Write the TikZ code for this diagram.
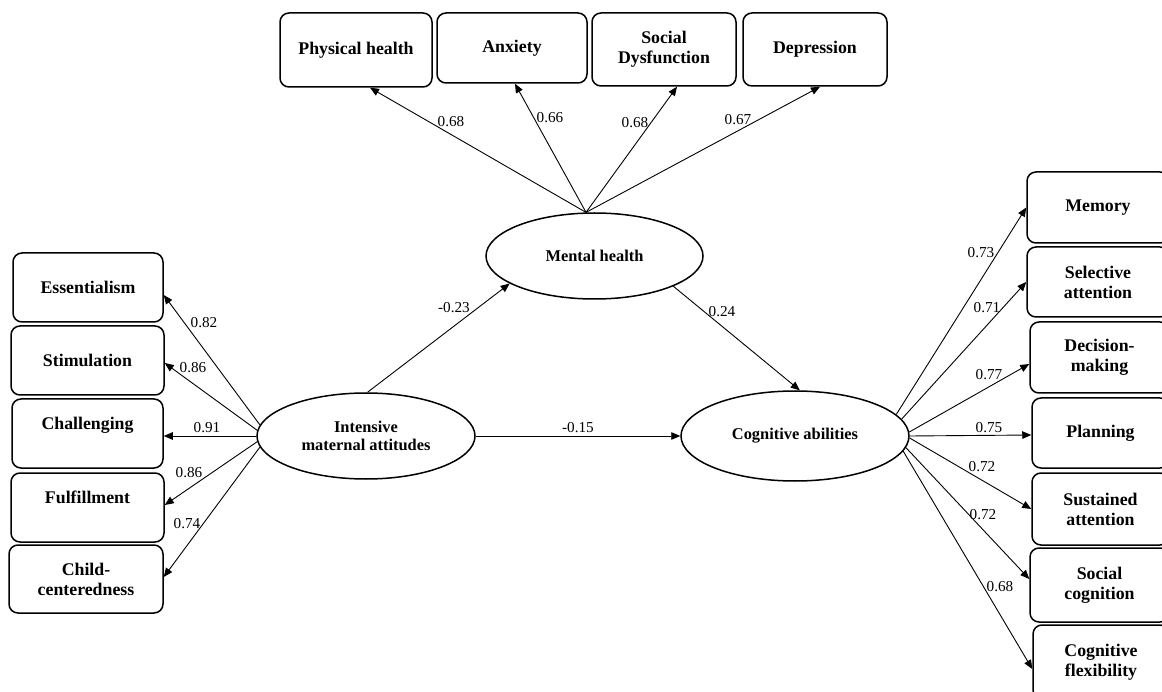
\documentclass[tikz,border=0pt]{standalone}
\usepackage{fontspec}
\setmainfont{Liberation Serif}
\usetikzlibrary{arrows.meta,shapes.geometric,calc}
\newcommand{\bxfont}{\fontsize{17.8}{20}\selectfont\bfseries}
\newcommand{\lvfont}{\fontsize{16.4}{18}\selectfont\bfseries}
\newcommand{\nmfont}{\fontsize{15.2}{17}\selectfont}
\begin{document}
\begin{tikzpicture}[x=1pt,y=-1pt,
  box/.style={draw,line width=1.5pt,rounded corners=9pt,align=center,inner sep=0pt,font=\bxfont},
  lat/.style={draw,ellipse,line width=1.5pt,align=center,inner sep=0pt,font=\lvfont},
  arr/.style={line width=0.9pt,-{Triangle[length=9pt,width=7.5pt]}},
  num/.style={inner sep=0pt,font=\nmfont}]
\fill[white] (0,0) rectangle (1162,692);
\clip (0,0) rectangle (1162,692);
% top indicators
\node[box,minimum width=152pt,minimum height=74pt] (ph) at (356,50) {Physical health};
\node[box,minimum width=150pt,minimum height=70pt] (anx) at (512,48) {Anxiety};
\node[box,minimum width=144pt,minimum height=73pt] (sd) at (664,49.5) {Social\\Dysfunction};
\node[box,minimum width=144pt,minimum height=73pt] (dep) at (815,49.5) {Depression};
% left indicators
\node[box,minimum width=150pt,minimum height=69pt] (ess) at (88,287.5) {Essentialism};
\node[box,minimum width=153pt,minimum height=69pt] (stim) at (87.5,360.5) {Stimulation};
\node[box,minimum width=151pt,minimum height=69pt] (chal) at (87.5,433.5) {Challenging\\\mbox{}};
\node[box,minimum width=153pt,minimum height=69pt] (ful) at (87.5,507.5) {Fulfillment\\\mbox{}};
\node[box,minimum width=154pt,minimum height=68pt] (child) at (86,579) {Child-\\centeredness};
% right indicators
\node[box,minimum width=142pt,minimum height=71pt] (mem) at (1098,207.5) {Memory};
\node[box,minimum width=142pt,minimum height=70pt] (sel) at (1098,282) {Selective\\attention};
\node[box,minimum width=139pt,minimum height=71pt] (dec) at (1099.5,357.5) {Decision-\\making};
\node[box,minimum width=137pt,minimum height=70pt] (plan) at (1100.5,433) {Planning};
\node[box,minimum width=137pt,minimum height=72pt] (sus) at (1100.5,509) {Sustained\\attention};
\node[box,minimum width=139pt,minimum height=74pt] (soc) at (1099.5,585) {Social\\cognition};
\node[box,minimum width=136pt,minimum height=74pt] (cf) at (1101,662) {Cognitive\\flexibility};
% latent variables
\node[lat,minimum width=217pt,minimum height=86pt] (mh) at (594.5,256) {Mental health};
\node[lat,minimum width=218pt,minimum height=86pt] (im) at (366,436) {Intensive\\maternal attitudes};
\node[lat,minimum width=228pt,minimum height=90pt] (cog) at (795,436) {Cognitive abilities};
% mental health loadings
\draw[arr] (mh.101) -- ($(ph.south)+(14,0)$);
\draw[arr] (mh.101) -- ($(anx.south)+(3,0)$);
\draw[arr] (mh.101) -- ($(sd.south)+(13,0)$);
\draw[arr] (mh.101) -- ($(dep.south)+(5,0)$);
\node[num] (n1) at (451,122) {0.68};
\node[num] (n2) at (550,118) {0.66};
\node[num] (n3) at (635,123) {0.68};
\node[num] (n4) at (738,120) {0.67};
% intensive loadings
\draw[arr] (im.174) -- ($(ess.east)+(0,7.5)$);
\draw[arr] (im.177) -- ($(stim.east)+(0,2.5)$);
\draw[arr] (im.180) -- ($(chal.east)+(0,2.5)$);
\draw[arr] (im.183) -- ($(ful.east)+(0,-2.5)$);
\draw[arr] (im.186) -- ($(child.east)+(0,-2)$);
\node[num] (n5) at (204,323) {0.82};
\node[num] (n6) at (193,368) {0.86};
\node[num] (n7) at (207,428) {0.91};
\node[num] (n8) at (189,473) {0.86};
\node[num] (n9) at (187,524) {0.74};
% cognitive loadings
\draw[arr] (cog.12) -- (mem.west);
\draw[arr] (cog.9) -- (sel.west);
\draw[arr] (cog.2) -- ($(dec.west)+(0,6.5)$);
\draw[arr] (cog.0) -- ($(plan.west)+(0,2)$);
\draw[arr] (cog.-1) -- (sus.west);
\draw[arr] (cog.-6) -- ($(soc.west)+(0,-6)$);
\draw[arr] (cog.-8) -- ($(cf.west)+(0,7)$);
\node[num] (n10) at (981,253) {0.73};
\node[num] (n11) at (987,308) {0.71};
\node[num] (n12) at (989,375) {0.77};
\node[num] (n13) at (989,428) {0.75};
\node[num] (n14) at (982,467) {0.72};
\node[num] (n15) at (983,515) {0.72};
\node[num] (n16) at (1000,587) {0.68};
% structural paths
\draw[arr] (im.88) -- (mh.198);
\draw[arr] (mh.-21.5) -- (cog.84);
\draw[arr] (im.east) -- (cog.west);
\node[num] (n17) at (454,308) {-0.23};
\node[num] (n18) at (722,312) {0.24};
\node[num] (n19) at (578,428) {-0.15};
\end{tikzpicture}
\end{document}
